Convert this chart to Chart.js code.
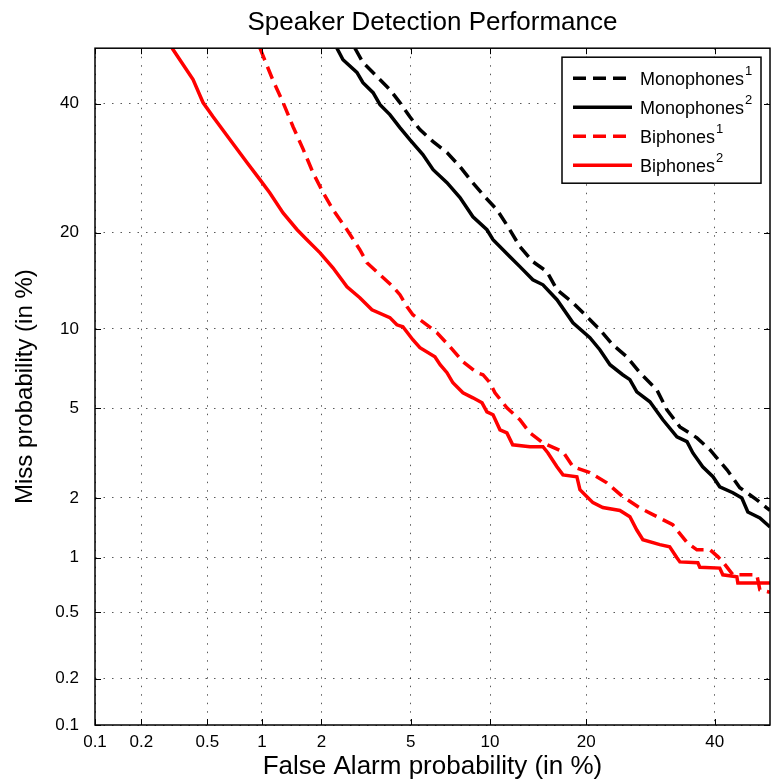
<!DOCTYPE html>
<html lang="en">
<head>
<meta charset="UTF-8">
<title>Speaker Detection Performance</title>
<script src="https://cdn.jsdelivr.net/npm/chart.js"></script>
<style>
  body { margin: 0; background: #fff; }
</style>
</head>
<body>
<canvas id="det" width="771" height="782"></canvas>
<script>
// tick positions / labels, in %
const tickValues = [0.1, 0.2, 0.5, 1, 2, 5, 10, 20, 40];
const tickLabels = ['0.1', '0.2', '0.5', '1', '2', '5', '10', '20', '40'];
const axisMin = 0.1, axisMax = 50;

// curves: false alarm % and miss %
const mono1Fa   = [2.87, 3.12, 3.60, 4.09, 4.51, 4.96, 5.45, 6.15, 6.96, 7.79, 8.62, 9.44, 10.56, 11.52, 12.61, 13.88, 15.36, 16.47, 18.35, 20.1, 21.8, 23.59, 25.62, 27.57, 30.22, 31.85, 34.0, 36.9, 39.2, 42.2, 44.5, 47.6, 49.4, 50];
const mono1Miss = [50, 47.4, 44.84, 42.5, 40.2, 37.7, 35.5, 33.48, 31.67, 29.43, 27.1, 25.18, 23.05, 20.74, 18.24, 16.49, 15.38, 13.5, 12.26, 11.01, 9.93, 8.78, 7.94, 6.92, 5.94, 4.94, 4.19, 3.76, 3.33, 2.71, 2.24, 1.96, 1.79, 1.74];

const mono2Fa   = [2.37, 2.53, 2.93, 3.12, 3.46, 3.71, 4.09, 4.51, 4.96, 5.6, 6.15, 6.96, 7.79, 8.69, 9.75, 10.24, 11.69, 12.61, 13.88, 14.93, 16.47, 18.35, 20.48, 21.8, 23.19, 25.0, 26.06, 27.1, 29.12, 31.19, 33.5, 35.2, 36.2, 37.9, 39.7, 40.9, 43.25, 44.87, 45.96, 48.15, 50];
const mono2Miss = [50, 47.9, 45.6, 43.75, 41.96, 39.83, 38.08, 35.84, 33.8, 31.35, 28.96, 26.96, 24.76, 22.08, 20.36, 19.1, 17.06, 15.93, 14.52, 14.0, 12.54, 10.5, 9.31, 8.43, 7.42, 6.80, 6.51, 5.83, 5.32, 4.49, 3.80, 3.62, 3.23, 2.80, 2.52, 2.26, 2.12, 2.00, 1.71, 1.60, 1.44];

const bi1Fa   = [0.977, 1.14, 1.29, 1.45, 1.63, 1.82, 2.04, 2.27, 2.64, 3.02, 3.25, 3.71, 4.22, 4.51, 4.83, 5.1, 5.6, 6.37, 7.15, 7.99, 8.98, 9.44, 9.99, 10.4, 11.42, 12.61, 13.59, 14.93, 17.16, 18.35, 20.48, 22.76, 25.0, 27.57, 29.6, 32.8, 35.2, 36.9, 39.2, 40.6, 41.45, 43.25, 47.6, 48.15, 50];
const bi1Miss = [50, 44.3, 40.2, 36.0, 32.2, 28.5, 25.47, 23.05, 20.36, 17.88, 16.37, 15.05, 13.8, 13.02, 11.89, 11.18, 10.58, 9.69, 8.64, 7.61, 6.92, 6.80, 6.33, 5.78, 5.03, 4.49, 3.95, 3.58, 3.27, 2.80, 2.63, 2.36, 2.03, 1.79, 1.66, 1.48, 1.20, 1.10, 1.10, 1.01, 0.95, 0.81, 0.81, 0.67, 0.65];

const bi2Fa   = [0.31, 0.413, 0.472, 0.539, 0.672, 0.834, 0.977, 1.10, 1.29, 1.52, 1.70, 1.97, 2.27, 2.64, 3.02, 3.42, 4.09, 4.38, 4.64, 5.1, 5.45, 6.25, 6.55, 6.96, 7.33, 7.99, 8.69, 9.37, 9.75, 10.24, 10.82, 11.42, 11.94, 13.59, 14.93, 15.47, 16.47, 17.16, 18.83, 19.21, 20.1, 20.88, 22.2, 24.6, 26.06, 27.1, 28.03, 30.7, 32.3, 33.5, 34.0, 37.06, 37.4, 40.9, 41.45, 43.97, 44.15, 50];
const bi2Miss = [50, 44.3, 40.2, 37.7, 33.8, 30.06, 27.42, 25.47, 22.6, 20.36, 19.1, 17.5, 15.8, 13.8, 12.73, 11.62, 10.93, 10.33, 10.17, 9.16, 8.57, 7.94, 7.42, 6.92, 6.33, 5.78, 5.52, 5.27, 4.84, 4.71, 4.07, 3.95, 3.51, 3.44, 3.44, 3.23, 2.80, 2.57, 2.52, 2.19, 2.03, 1.90, 1.80, 1.74, 1.62, 1.39, 1.24, 1.17, 1.14, 1.00, 0.95, 0.94, 0.89, 0.88, 0.81, 0.79, 0.73, 0.73];

const FONT = '"Liberation Sans", Arial, Helvetica, sans-serif';

// inverse normal cdf (Acklam)
function probit(p) {
  const a = [-3.969683028665376e+01, 2.209460984245205e+02, -2.759285104469687e+02, 1.383577518672690e+02, -3.066479806614716e+01, 2.506628277459239e+00];
  const b = [-5.447609879822406e+01, 1.615858368580409e+02, -1.556989798598866e+02, 6.680131188771972e+01, -1.328068155288572e+01];
  const c = [-7.784894002430293e-03, -3.223964580411365e-01, -2.400758277161838e+00, -2.549732539343734e+00, 4.374664141464968e+00, 2.938163982698783e+00];
  const d = [7.784695709041462e-03, 3.224671290700398e-01, 2.445134137142996e+00, 3.754408661907416e+00];
  const pl = 0.02425;
  let q, r;
  if (p < pl) {
    q = Math.sqrt(-2 * Math.log(p));
    return (((((c[0]*q+c[1])*q+c[2])*q+c[3])*q+c[4])*q+c[5]) / ((((d[0]*q+d[1])*q+d[2])*q+d[3])*q+1);
  }
  if (p > 1 - pl) {
    q = Math.sqrt(-2 * Math.log(1 - p));
    return -(((((c[0]*q+c[1])*q+c[2])*q+c[3])*q+c[4])*q+c[5]) / ((((d[0]*q+d[1])*q+d[2])*q+d[3])*q+1);
  }
  q = p - 0.5; r = q * q;
  return (((((a[0]*r+a[1])*r+a[2])*r+a[3])*r+a[4])*r+a[5])*q / (((((b[0]*r+b[1])*r+b[2])*r+b[3])*r+b[4])*r+1);
}

function normcdf(z) {
  const t = 1 / (1 + 0.3275911 * Math.abs(z) / Math.SQRT2);
  const y = 1 - (((((1.061405429*t - 1.453152027)*t) + 1.421413741)*t - 0.284496736)*t + 0.254829592)*t*Math.exp(-z*z/2);
  return z >= 0 ? (1 + y) / 2 : (1 - y) / 2;
}

// normal deviate scale for DET plots, values in %
class ProbitScale extends Chart.Scale {
  static id = 'probit';
  static defaults = {};
  determineDataLimits() {
    this.min = this.options.min;
    this.max = this.options.max;
  }
  buildTicks() {
    return [];
  }
  getLabelForValue(v) {
    return String(v);
  }
  configure() {
    super.configure();
    this._zmin = probit(this.min / 100);
    this._zmax = probit(this.max / 100);
  }
  getPixelForValue(v) {
    return this.getPixelForDecimal((probit(v / 100) - this._zmin) / (this._zmax - this._zmin));
  }
  getValueForPixel(px) {
    return 100 * normcdf(this._zmin + this.getDecimalForPixel(px) * (this._zmax - this._zmin));
  }
}
Chart.register(ProbitScale);

function pts(xs, ys) {
  return xs.map((x, i) => ({ x: x, y: ys[i] }));
}

function curve(label, xs, ys, color, dash) {
  return {
    label: label,
    data: pts(xs, ys),
    borderColor: color,
    backgroundColor: color,
    borderWidth: 3.5,
    borderDash: dash,
    pointRadius: 0,
    tension: 0,
    clip: 0
  };
}

// box + inward tick marks, like matlab
const frame = {
  id: 'frame',
  afterDatasetsDraw(chart) {
    const { ctx, chartArea: a, scales } = chart;
    ctx.save();
    ctx.strokeStyle = '#000';
    ctx.lineWidth = 1.5;
    ctx.setLineDash([]);
    ctx.strokeRect(a.left, a.top, a.right - a.left, a.bottom - a.top);
    ctx.lineWidth = 1;
    ctx.beginPath();
    tickValues.forEach(v => {
      const px = Math.round(scales.x.getPixelForValue(v)) + 0.5;
      ctx.moveTo(px, a.bottom); ctx.lineTo(px, a.bottom - 6);
      ctx.moveTo(px, a.top); ctx.lineTo(px, a.top + 6);
      const py = Math.round(scales.y.getPixelForValue(v)) + 0.5;
      ctx.moveTo(a.left, py); ctx.lineTo(a.left + 6, py);
      ctx.moveTo(a.right, py); ctx.lineTo(a.right - 6, py);
    });
    ctx.stroke();
    ctx.restore();
  },
  afterDraw(chart) {
    const { ctx, chartArea: a } = chart;
    const w = 199, h = 126;
    const x0 = a.right - 9 - w, y0 = a.top + 9;
    ctx.save();
    ctx.fillStyle = '#fff';
    ctx.fillRect(x0, y0, w, h);
    ctx.strokeStyle = '#000';
    ctx.lineWidth = 1.5;
    ctx.strokeRect(x0, y0, w, h);
    chart.data.datasets.forEach((ds, i) => {
      const y = y0 + 21 + i * 29;
      ctx.strokeStyle = ds.borderColor;
      ctx.lineWidth = 3.5;
      ctx.setLineDash(ds.borderDash);
      ctx.beginPath();
      ctx.moveTo(x0 + 11, y);
      ctx.lineTo(x0 + 70, y);
      ctx.stroke();
      ctx.setLineDash([]);
      const sup = { '\u00b9': '1', '\u00b2': '2' }[ds.label.slice(-1)];
      const base = sup ? ds.label.slice(0, -1) : ds.label;
      ctx.fillStyle = '#000';
      ctx.textBaseline = 'middle';
      ctx.font = '18px ' + FONT;
      ctx.fillText(base, x0 + 78, y + 2);
      if (sup) {
        const bw = ctx.measureText(base).width;
        ctx.font = '13px ' + FONT;
        ctx.fillText(sup, x0 + 78 + bw + 1, y - 7);
      }
    });
    ctx.restore();
  }
};

const gridOpts = {
  color: 'rgba(0,0,0,0.65)',
  lineWidth: 1,
  drawTicks: false
};

new Chart(document.getElementById('det'), {
  type: 'line',
  data: {
    datasets: [
      curve('Monophones\u00b9', mono1Fa, mono1Miss, '#000000', [13, 7]),
      curve('Monophones\u00b2', mono2Fa, mono2Miss, '#000000', []),
      curve('Biphones\u00b9', bi1Fa, bi1Miss, '#ff0000', [13, 7]),
      curve('Biphones\u00b2', bi2Fa, bi2Miss, '#ff0000', [])
    ]
  },
  options: {
    responsive: false,
    animation: false,
    layout: { padding: { left: 0, right: 1, top: 0, bottom: 0 } },
    scales: {
      x: {
        type: 'probit',
        min: axisMin,
        max: axisMax,
        afterBuildTicks: s => { s.ticks = tickValues.map(v => ({ value: v })); },
        afterFit: s => { s.height = 57; },
        grid: { ...gridOpts },
        border: { display: false, dash: [1.5, 7] },
        ticks: {
          autoSkip: false,
          maxRotation: 0,
          padding: 7,
          color: '#000',
          font: { family: FONT, size: 17 },
          callback: (v, i) => tickLabels[i]
        },
        title: {
          display: true,
          text: 'False Alarm probability (in %)',
          color: '#000',
          font: { family: FONT, size: 26 },
          padding: { top: 0, bottom: 0 }
        }
      },
      y: {
        type: 'probit',
        min: axisMin,
        max: axisMax,
        afterBuildTicks: s => { s.ticks = tickValues.map(v => ({ value: v })); },
        afterFit: s => { s.width = 95; },
        grid: { ...gridOpts },
        border: { display: false, dash: [1.5, 7] },
        ticks: {
          autoSkip: false,
          padding: 16,
          color: '#000',
          font: { family: FONT, size: 17 },
          callback: (v, i) => tickLabels[i]
        },
        title: {
          display: true,
          text: 'Miss probability (in %)',
          color: '#000',
          font: { family: FONT, size: 24 },
          padding: { top: 11, bottom: 0 }
        }
      }
    },
    plugins: {
      legend: { display: false },
      tooltip: { enabled: false },
      title: {
        display: true,
        fullSize: false,
        text: 'Speaker Detection Performance',
        color: '#000',
        font: { family: FONT, size: 26, weight: 'normal' },
        padding: { top: 7, bottom: 10 }
      }
    }
  },
  plugins: [frame]
});
</script>
</body>
</html>
